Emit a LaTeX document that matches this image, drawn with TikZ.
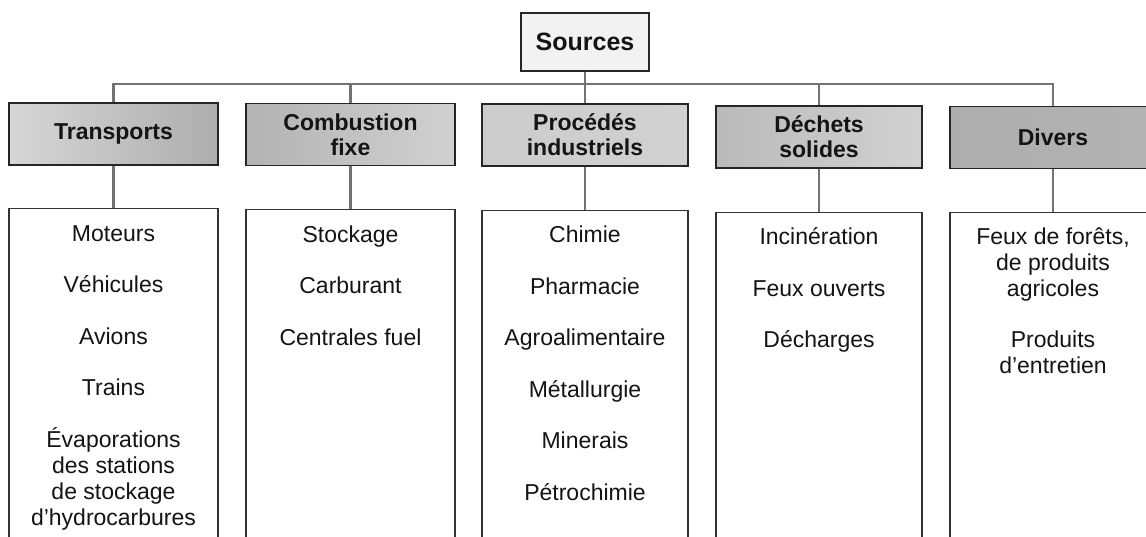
\documentclass[tikz,border=0pt]{standalone}
\usepackage{fontspec}
\setmainfont{Liberation Sans}
\begin{document}
\begin{tikzpicture}[x=1pt,y=1pt,
  every node/.style={text=black!92},
  conn/.style={draw=black!55,line width=2.6pt},
  srcbox/.style={draw=black!85,line width=1.3pt,fill=black!5,minimum width=128pt,minimum height=58pt,inner sep=0pt,font=\fontsize{25}{27}\selectfont\bfseries},
  catbox/.style={draw=black!85,line width=1.3pt,minimum height=62pt,inner sep=0pt,align=center,font=\fontsize{23}{25}\selectfont\bfseries},
  listbox/.style={draw=black!80,line width=1.2pt,fill=white,inner sep=0pt},
  item/.style={anchor=base,inner sep=0pt,font=\fontsize{23}{26}\selectfont}
]
\useasboundingbox (0,0) rectangle (1146,-536);
\clip (0,0) rectangle (1146,-536);
\fill[white] (0,0) rectangle (1146,-536);

% header boxes
\node[srcbox] (src) at (585,-42) {Sources};
\node[catbox,minimum width=209pt,left color=black!16,right color=black!32] (t) at (113.5,-134) {Transports};
\node[catbox,minimum width=209pt,left color=black!30,right color=black!18] (c) at (350.5,-134.5) {Combustion\\fixe};
\node[catbox,minimum width=206pt,left color=black!20,right color=black!18] (p) at (585,-135) {Procédés\\industriels};
\node[catbox,minimum width=206pt,left color=black!27,right color=black!18] (d) at (819,-137) {Déchets\\solides};
\node[catbox,minimum width=206pt,left color=black!32,right color=black!30] (v) at (1053,-137.5) {Divers};

% list boxes
\node[listbox,minimum width=209pt,minimum height=352pt,anchor=north] (lt) at (113.5,-208) {};
\node[listbox,minimum width=209pt,minimum height=351pt,anchor=north] (lc) at (350.5,-209) {};
\node[listbox,minimum width=206pt,minimum height=350pt,anchor=north] (lp) at (585,-210) {};
\node[listbox,minimum width=206pt,minimum height=348pt,anchor=north] (ld) at (819,-212) {};
\node[listbox,minimum width=206pt,minimum height=348pt,anchor=north] (lv) at (1053,-212) {};

% connectors
\coordinate (bus) at (0,-84);
\draw[conn] (src.south) -- (p.north);
\draw[conn,line join=miter] (t.north) -- (t.north |- bus) -- (v.north |- bus) -- (v.north);
\draw[conn] (c.north |- bus) -- (c.north);
\draw[conn] (d.north |- bus) -- (d.north);
\draw[conn] (t.south) -- (lt.north);
\draw[conn] (c.south) -- (lc.north);
\draw[conn] (p.south) -- (lp.north);
\draw[conn] (d.south) -- (ld.north);
\draw[conn] (v.south) -- (lv.north);

% column 1
\node[item] (t1) at (113.5,-241) {Moteurs};
\node[item] (t2) at (113.5,-292) {Véhicules};
\node[item] (t3) at (113.5,-344) {Avions};
\node[item] (t4) at (113.5,-395) {Trains};
\node[item] (t5) at (113.5,-447) {Évaporations};
\node[item] (t6) at (113.5,-473) {des stations};
\node[item] (t7) at (113.5,-499) {de stockage};
\node[item] (t8) at (113.5,-525) {d’hydrocarbures};

% column 2
\node[item] (c1) at (350.5,-242) {Stockage};
\node[item] (c2) at (350.5,-293) {Carburant};
\node[item] (c3) at (350.5,-345) {Centrales fuel};

% column 3
\node[item] (p1) at (585,-242) {Chimie};
\node[item] (p2) at (585,-294) {Pharmacie};
\node[item] (p3) at (585,-345) {Agroalimentaire};
\node[item] (p4) at (585,-397) {Métallurgie};
\node[item] (p5) at (585,-448) {Minerais};
\node[item] (p6) at (585,-500) {Pétrochimie};

% column 4
\node[item] (d1) at (819,-244) {Incinération};
\node[item] (d2) at (819,-296) {Feux ouverts};
\node[item] (d3) at (819,-347) {Décharges};

% column 5
\node[item] (v1) at (1053,-244) {Feux de forêts,};
\node[item] (v2) at (1053,-270) {de produits};
\node[item] (v3) at (1053,-296) {agricoles};
\node[item] (v4) at (1053,-347) {Produits};
\node[item] (v5) at (1053,-373) {d’entretien};
\end{tikzpicture}
\end{document}
